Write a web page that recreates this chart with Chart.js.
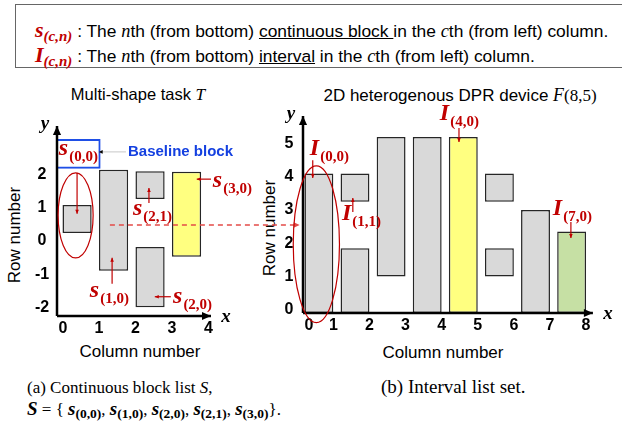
<!DOCTYPE html>
<html>
<head>
<meta charset="utf-8">
<script src="https://cdn.jsdelivr.net/npm/chart.js@4.4.1/dist/chart.umd.min.js"></script>
<style>
  body { margin: 0; width: 622px; height: 424px; position: relative; overflow: hidden; background: #fff;
         font-family: Arial, "Liberation Sans", sans-serif; color: #000; }
  canvas { position: absolute; left: 0; top: 0; }
  .txt { position: absolute; white-space: nowrap; line-height: 20px; }
  .box { position: absolute; left: 15px; top: 4px; width: 620px; height: 62px; border: 1.5px solid #666; border-right: none; }
  .sym { color: #c00000; font: bold italic 22px "Liberation Serif", serif; }
  .sym sub { font-size: 15px; vertical-align: -4px; font-style: italic; }
  .it { font-family: "Liberation Serif", serif; font-style: italic; font-size: 1.05em; }
  .u { text-decoration: underline; }
  .serif { font-family: "Liberation Serif", "Times New Roman", serif; }
  .bs { font: bold italic 19px "Liberation Serif", serif; }
  .bs sub { font-style: normal; font-size: 13.5px; vertical-align: -3px; }
  .rot { transform: translate(-50%, -50%) rotate(-90deg); }
  .ctr { transform: translateX(-50%); }
</style>
</head>
<body>
<div class="box"></div>
<div class="txt" style="left:35px; top:17px; font-size:17.4px;"><span class="sym">s<sub>(c,n)</sub></span> : The <span class="it">n</span>th (from bottom) <span class="u">continuous block </span>in the <span class="it">c</span>th (from left) column.</div>
<div class="txt" style="left:35px; top:42px; font-size:17.4px;"><span class="sym">I<sub>(c,n)</sub></span> : The <span class="it">n</span>th (from bottom) <span class="u">interval</span> in the <span class="it">c</span>th (from left) column.</div>

<div class="txt ctr" style="left:138px; top:84px; font-size:16.5px;">Multi-shape task <span class="it">T</span></div>
<div class="txt ctr" style="left:460px; top:85px; font-size:17px;">2D heterogenous DPR device <span class="it">F</span><span class="serif">(8,5)</span></div>
<div class="txt rot" style="left:15px; top:235px; font-size:17px;">Row number</div>
<div class="txt rot" style="left:270px; top:228px; font-size:17px;">Row number</div>
<div class="txt ctr" style="left:140px; top:342px; font-size:17px;">Column number</div>
<div class="txt ctr" style="left:443px; top:343px; font-size:17px;">Column number</div>
<div class="txt serif" style="left:27px; top:378px; font-size:17px;">(a) Continuous block list <i>S</i>,</div>
<div class="txt serif" style="left:27px; top:398px; font-size:17px;"><span class="bs">S</span> = { <span class="bs">s<sub>(0,0)</sub></span>, <span class="bs">s<sub>(1,0)</sub></span>, <span class="bs">s<sub>(2,0)</sub></span>, <span class="bs">s<sub>(2,1)</sub></span>, <span class="bs">s<sub>(3,0)</sub></span>}.</div>
<div class="txt serif" style="left:381px; top:377px; font-size:19px;">(b) Interval list set.</div>

<canvas id="taskChart" width="622" height="424"></canvas>
<canvas id="deviceChart" width="622" height="424"></canvas>

<script>
// Multi-shape task T: continuous blocks s(c,n)
const taskColumns = [0, 1, 2, 2, 3];
const taskRows = [0, 0, 0, 1, 0];
const taskBottoms = [0.24, -0.9, -2.0, 1.26, -0.48];
const taskTops = [1.08, 2.14, -0.18, 2.1, 2.08];
const baselineBlock = [2.17, 3.07];
const taskXTicks = [0, 1, 2, 3, 4];
const taskYTicks = [-2, -1, 0, 1, 2];

// 2D heterogenous DPR device F(8,5): intervals I(c,n)
const deviceColumns = [0, 1, 1, 2, 3, 4, 5, 5, 6, 7];
const deviceRows = [0, 0, 1, 0, 0, 0, 0, 1, 0, 0];
const deviceBottoms = [-0.1, -0.1, 3.25, 1.0, -0.1, -0.1, 1.0, 3.25, -0.1, -0.1];
const deviceTops = [4.1, 1.85, 4.1, 5.2, 5.2, 5.2, 1.85, 4.1, 3.0, 2.35];
const deviceXTicks = [0, 1, 2, 3, 4, 5, 6, 7, 8];
const deviceYTicks = [0, 1, 2, 3, 4, 5];

const GREY = '#d9d9d9', YELLOW = '#ffff80', GREEN = '#c6e0a4', RED = '#c00000';

function arrowHead(ctx, x, y, angle, size) {
    ctx.save();
    ctx.translate(x, y);
    ctx.rotate(angle);
    ctx.beginPath();
    ctx.moveTo(0, 0);
    ctx.lineTo(-size, -size * 0.45);
    ctx.lineTo(-size, size * 0.45);
    ctx.closePath();
    ctx.fill();
    ctx.restore();
}

function arrow(ctx, x1, y1, x2, y2, size) {
    ctx.beginPath();
    ctx.moveTo(x1, y1);
    ctx.lineTo(x2, y2);
    ctx.stroke();
    arrowHead(ctx, x2, y2, Math.atan2(y2 - y1, x2 - x1), size);
}

function symbol(ctx, main, sub, x, y) {
    ctx.textAlign = 'left';
    ctx.textBaseline = 'alphabetic';
    ctx.fillStyle = RED;
    ctx.font = 'bold italic 24px "Liberation Serif"';
    ctx.fillText(main, x, y);
    const w = ctx.measureText(main).width;
    ctx.font = 'bold 15px "Liberation Serif"';
    ctx.fillText(sub, x + w + 1, y + 6);
}

// draws axes with arrows, tick labels and the red annotations
const overlay = {
    id: 'overlay',
    afterDatasetsDraw(chart, args, o) {
        const { ctx, chartArea: a, scales: { x, y } } = chart;
        const X = v => x.getPixelForValue(v);
        const Y = v => y.getPixelForValue(v);
        ctx.save();

        // axes
        ctx.strokeStyle = '#000';
        ctx.fillStyle = '#000';
        ctx.lineWidth = 2.5;
        arrow(ctx, a.left, a.bottom, a.right - 4, a.bottom, 9);
        arrow(ctx, a.left, a.bottom, a.left, a.top + 4, 9);

        ctx.font = 'bold 16px Arial';
        ctx.textAlign = 'center';
        ctx.textBaseline = 'middle';
        o.xTicks.forEach(v => ctx.fillText(String(v), Math.max(X(v), a.left + 6), a.bottom + 13));
        o.yTicks.forEach(v => ctx.fillText(String(v), a.left - o.yTickGap, Y(v)));

        ctx.font = 'bold italic 19px "Liberation Serif"';
        ctx.fillText('x', a.right + 11, a.bottom + 1);
        ctx.fillText('y', a.left - 12, a.top + 2);

        // ellipses
        ctx.strokeStyle = RED;
        ctx.lineWidth = 1.2;
        o.ellipses.forEach(e => {
            ctx.beginPath();
            ctx.ellipse(X(e.x), Y(e.y), Math.abs(X(e.x + e.rx) - X(e.x)), Math.abs(Y(e.y + e.ry) - Y(e.y)), 0, 0, Math.PI * 2);
            ctx.stroke();
        });

        // baseline block connector
        if (o.baseline) {
            const b = o.baseline;
            ctx.strokeStyle = '#c8c8c8';
            ctx.lineWidth = 1;
            ctx.beginPath();
            ctx.moveTo(X(b.from), Y(b.y));
            ctx.lineTo(X(b.to), Y(b.y));
            ctx.stroke();
            ctx.fillStyle = '#000';
            arrowHead(ctx, X(b.to) - 1, Y(b.y), Math.PI, 4);
            ctx.fillStyle = '#1440e0';
            ctx.font = 'bold 15px Arial';
            ctx.textAlign = 'left';
            ctx.fillText('Baseline block', X(b.from) + 2, Y(b.y));
        }

        // dashed mapping arrow
        if (o.mapping) {
            const m = o.mapping;
            ctx.strokeStyle = '#e34b48';
            ctx.fillStyle = '#e34b48';
            ctx.lineWidth = 1.5;
            ctx.setLineDash([5, 4]);
            ctx.beginPath();
            ctx.moveTo(X(m.from), Y(m.y));
            ctx.lineTo(X(m.to) - 4, Y(m.y));
            ctx.stroke();
            ctx.setLineDash([]);
            arrowHead(ctx, X(m.to), Y(m.y), 0, 6);
        }

        // labels with pointer arrows
        ctx.strokeStyle = RED;
        ctx.lineWidth = 1.2;
        o.pointers.forEach(p => {
            ctx.fillStyle = RED;
            arrow(ctx, X(p.from[0]), Y(p.from[1]), X(p.to[0]), Y(p.to[1]), 4);
            symbol(ctx, p.main, p.sub, X(p.at[0]), Y(p.at[1]));
        });
        ctx.restore();
    }
};

function blockData(cols, bottoms, tops, offset) {
    return cols.map((c, i) => ({ x: c + offset, y: [bottoms[i], tops[i]] }));
}

function baseOptions(xMin, xMax, yMin, yMax, padding, overlayOpts) {
    return {
        responsive: false,
        animation: false,
        events: [],
        layout: { padding: padding },
        plugins: { legend: { display: false }, tooltip: { enabled: false }, overlay: overlayOpts },
        scales: {
            x: { type: 'linear', display: false, offset: false, min: xMin, max: xMax },
            y: { type: 'linear', display: false, min: yMin, max: yMax }
        }
    };
}

// annotation placement for the labelled blocks, in data units
const taskPointers = [
    { at: [-0.1, 2.59], from: [0.4, 2.05], to: [0.4, 0.82] },
    { at: [0.75, -1.68], from: [1.36, -1.29], to: [1.36, -0.51] },
    { at: [3.03, -1.86], from: [2.97, -1.68], to: [2.53, -1.68] },
    { at: [1.93, 0.78], from: [2.37, 1.14], to: [2.37, 1.59] },
    { at: [4.12, 1.62], from: [4.07, 1.86], to: [3.68, 1.86] }
].map((p, i) => Object.assign({ main: 's', sub: '(' + taskColumns[i] + ',' + taskRows[i] + ')' }, p));

const devicePointers = [
    { idx: 0, at: [0.35, 4.65], from: [0.43, 4.5], to: [0.43, 3.96] },
    { idx: 2, at: [1.24, 2.7], from: [1.54, 2.94], to: [1.54, 3.36] },
    { idx: 5, at: [3.95, 5.71], from: [4.48, 5.47], to: [4.48, 5.05] },
    { idx: 9, at: [7.08, 2.85], from: [7.58, 2.64], to: [7.58, 2.16] }
].map(p => Object.assign({ main: 'I', sub: '(' + deviceColumns[p.idx] + ',' + deviceRows[p.idx] + ')' }, p));

new Chart(document.getElementById('taskChart'), {
    type: 'bar',
    data: {
        datasets: [
            {
                data: blockData(taskColumns, taskBottoms, taskTops, 0.4),
                backgroundColor: taskColumns.map(c => c === 3 ? YELLOW : GREY),
                borderColor: '#262626',
                borderWidth: 1.5,
                borderSkipped: false,
                barPercentage: 0.8,
                categoryPercentage: 1,
                grouped: false
            },
            {
                data: [{ x: 0.4, y: baselineBlock }],
                backgroundColor: 'rgba(0,0,0,0)',
                borderColor: '#1f4fe6',
                borderWidth: 2,
                borderSkipped: false,
                barPercentage: 1.29,
                categoryPercentage: 1,
                grouped: false
            }
        ]
    },
    options: baseOptions(-0.15, 4.18, -2.26, 3.58, { left: 57, right: 407, top: 122, bottom: 108 }, {
        xTicks: taskXTicks,
        yTicks: taskYTicks,
        yTickGap: 15,
        ellipses: [{ x: 0.36, y: 0.77, rx: 0.48, ry: 1.28 }],
        baseline: { from: 1.74, to: 1.02, y: 2.68 },
        mapping: { from: 1.3, to: 6.5, y: 0.48 },
        pointers: taskPointers
    }),
    plugins: [overlay]
});

const deviceFill = { 4: YELLOW, 7: GREEN };

new Chart(document.getElementById('deviceChart'), {
    type: 'bar',
    data: {
        datasets: [{
            data: blockData(deviceColumns, deviceBottoms, deviceTops, 0.6),
            backgroundColor: deviceColumns.map(c => deviceFill[c] || GREY),
            borderColor: '#262626',
            borderWidth: 1.5,
            borderSkipped: false,
            barPercentage: 0.8,
            categoryPercentage: 1,
            grouped: false
        }]
    },
    options: baseOptions(0.16, 8.3, -0.1, 5.95, { left: 303, right: 25.1, top: 112, bottom: 111 }, {
        xTicks: deviceXTicks,
        yTicks: deviceYTicks,
        yTickGap: 14,
        ellipses: [{ x: 0.53, y: 1.97, rx: 0.64, ry: 2.36 }],
        pointers: devicePointers
    }),
    plugins: [overlay]
});
</script>
</body>
</html>
